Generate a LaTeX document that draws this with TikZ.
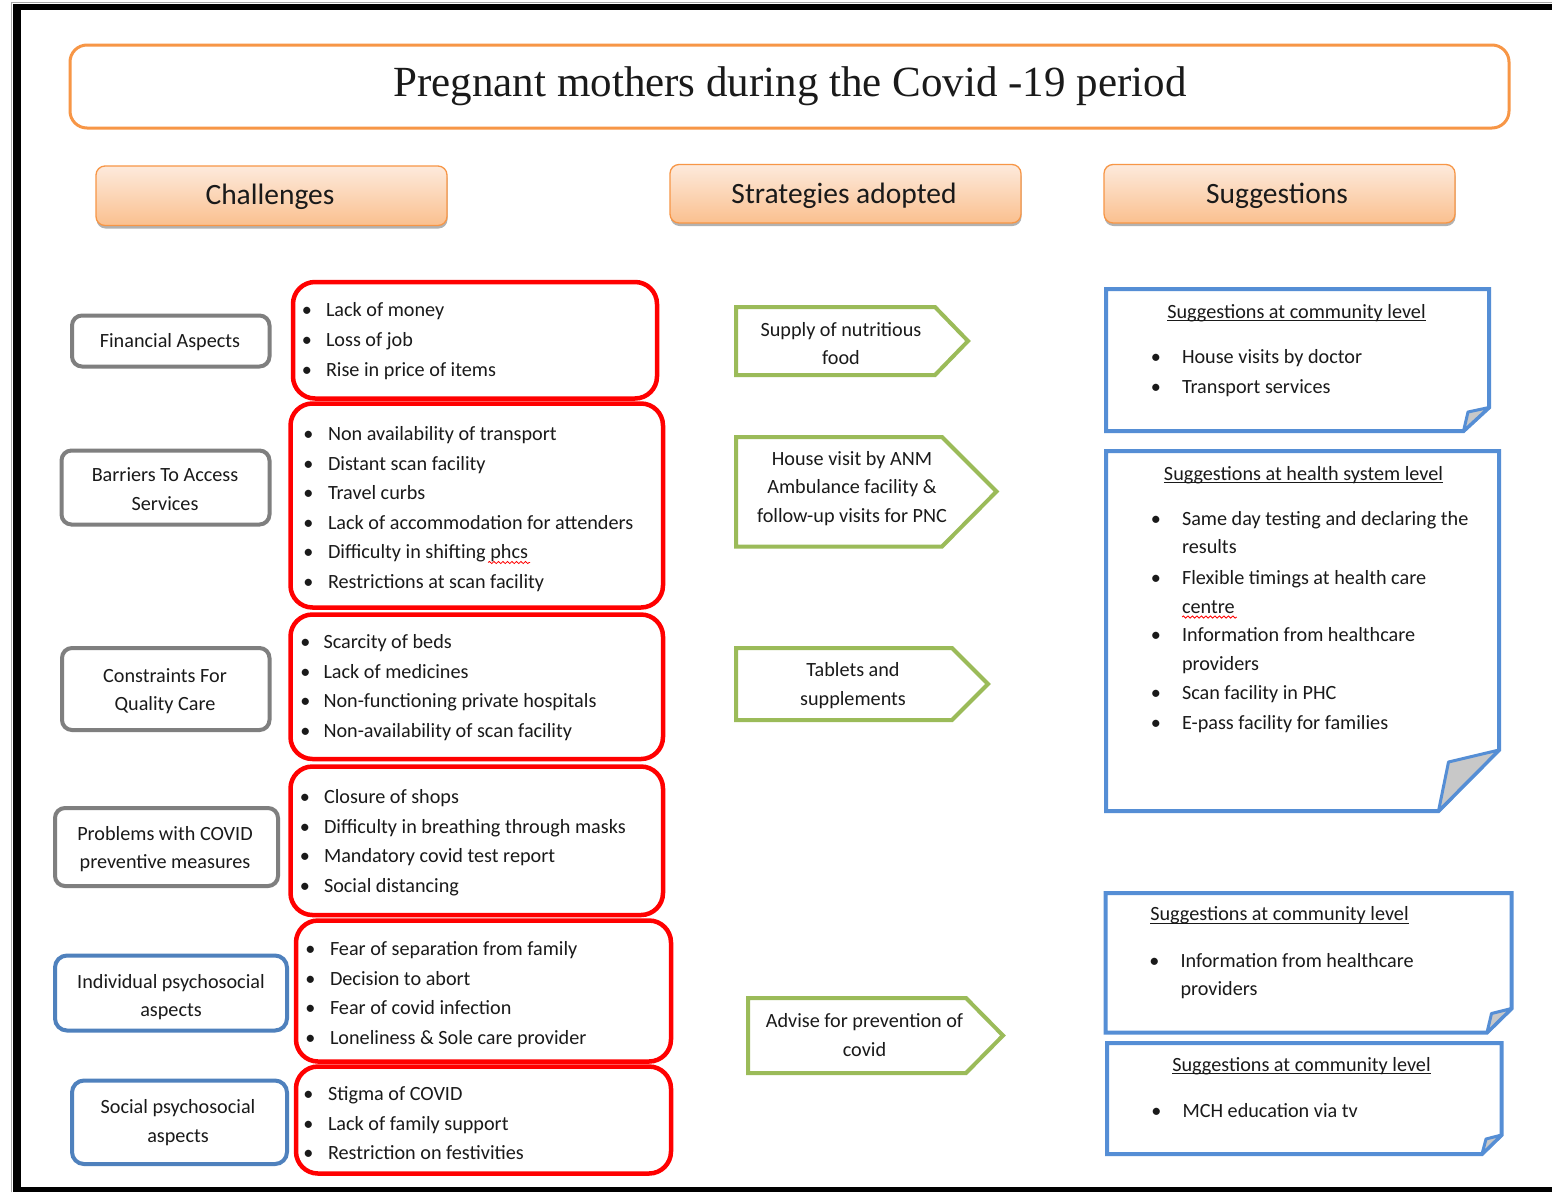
\documentclass[tikz,border=0pt]{standalone}
\usepackage{fontspec}
\setmainfont{Carlito}
\newfontfamily\titlefont{Liberation Serif}
\usetikzlibrary{shadows,decorations.pathmorphing}
\definecolor{orng}{HTML}{F79646}
\definecolor{htop}{RGB}{253,234,220}
\definecolor{hbot}{RGB}{250,192,143}
\definecolor{grn}{HTML}{9BBB59}
\definecolor{gry}{HTML}{7F7F7F}
\definecolor{lblue}{HTML}{4F81BD}
\definecolor{sblue}{HTML}{558ED5}
\definecolor{flapgray}{HTML}{C8C8C8}
\definecolor{txt}{HTML}{1A1A1A}
\newcommand\myitem[5]{\node[bul] (#1b) at (#2,#4) {\textbullet}; \node[itm] (#1) at (#3,#4) {#5};}
\begin{document}
\begin{tikzpicture}[x=1pt,y=-1pt,
  every node/.style={inner sep=0pt,outer sep=0pt,text=txt,font=\fontsize{20.2}{24}\selectfont},
  itm/.style={anchor=base west},
  bul/.style={anchor=base},
  ctr/.style={anchor=base},
  hdr/.style={draw=orng,line width=1.3,rounded corners=9,top color=htop,bottom color=hbot,
     drop shadow={shadow xshift=0.5pt,shadow yshift=-3pt,opacity=0.3,fill=black}},
  hdrtxt/.style={anchor=base,font=\fontsize{29.5}{34}\selectfont},
  graybox/.style={draw=gry,line width=4,rounded corners=10},
  bluebox/.style={draw=lblue,line width=4,rounded corners=12},
  redbox/.style={draw=red,line width=4.5,rounded corners=22},
  arrowbox/.style={draw=grn,line width=4,line join=miter},
  sugbox/.style={draw=sblue,line width=4,line join=miter},
  flap/.style={draw=sblue,line width=3,fill=flapgray,line join=round},
  uline/.style={draw=txt,line width=1},
  squig/.style={draw=red,line width=0.8,decorate,decoration={snake,amplitude=1.1pt,segment length=4.5pt}}
]
\useasboundingbox (0,0) rectangle (1552,1192);
\fill[white] (0,0) rectangle (1552,1192);
% frame
\draw[gray!70,line width=0.8] (11,1192) -- (11,2.5) -- (1552,2.5);
\fill[black] (13,4) rectangle (1552,10);
\fill[black] (13,4) rectangle (20.5,1192);
\fill[black] (13,1186.5) rectangle (1552,1192);

% title
\draw[draw=orng,line width=3,rounded corners=17] (70,45) rectangle (1509,128);
\node[ctr,font=\titlefont\fontsize{43}{50}\selectfont] (title) at (790,96.7) {Pregnant mothers during the Covid -19 period};

% headers
\path[hdr] (96,166) rectangle (447,225.5);
\node[hdrtxt] (challenges) at (270,204) {Challenges};
\path[hdr] (670,164.5) rectangle (1021,223);
\node[hdrtxt] (strategies) at (844,203.3) {Strategies adopted};
\path[hdr] (1104,164.5) rectangle (1455,223);
\node[hdrtxt] (suggestions) at (1277,203.3) {Suggestions};

% left labels
\draw[graybox] (72,315.5) rectangle (269.5,366.5);
\node[ctr] (fin) at (170,347.5) {Financial Aspects};
\draw[graybox] (61.5,450.5) rectangle (269.5,524.5);
\node[ctr] (bar1) at (165,481.7) {Barriers To Access};
\node[ctr] (bar2) at (165,510.7) {Services};
\draw[graybox] (62,648) rectangle (269.5,730);
\node[ctr] (con1) at (165,682) {Constraints For};
\node[ctr] (con2) at (165,710.5) {Quality Care};
\draw[graybox] (55,808) rectangle (278,886);
\node[ctr] (pro1) at (165,840) {Problems with COVID};
\node[ctr] (pro2) at (165,868.5) {preventive measures};
\draw[bluebox] (55,955.5) rectangle (287,1030.5);
\node[ctr] (ind1) at (171,988) {Individual psychosocial};
\node[ctr] (ind2) at (171,1016.5) {aspects};
\draw[bluebox] (72,1080.5) rectangle (287,1164);
\node[ctr] (soc1) at (178,1113.5) {Social psychosocial};
\node[ctr] (soc2) at (178,1142) {aspects};

% red boxes
\draw[redbox] (293,282) rectangle (657,398.5);
\myitem{r1a}{307}{326}{316.7}{Lack of money}
\myitem{r1b}{307}{326}{346.5}{Loss of job}
\myitem{r1c}{307}{326}{376}{Rise in price of items}

\draw[redbox] (290.5,403.5) rectangle (663,607.5);
\myitem{r2a}{308.5}{328}{440}{Non availability of transport}
\myitem{r2b}{308.5}{328}{470}{Distant scan facility}
\myitem{r2c}{308.5}{328}{499.3}{Travel curbs}
\myitem{r2d}{308.5}{328}{529.3}{Lack of accommodation for attenders}
\myitem{r2e}{308.5}{328}{558.5}{Difficulty in shifting phcs}
\myitem{r2f}{308.5}{328}{588.3}{Restrictions at scan facility}
\draw[squig] ([xshift=-40pt,yshift=-4pt]r2e.base east) -- ([xshift=2pt,yshift=-4pt]r2e.base east);

\draw[redbox] (290.5,614.5) rectangle (663,759);
\myitem{r3a}{305.5}{323.5}{648}{Scarcity of beds}
\myitem{r3b}{305.5}{323.5}{678}{Lack of medicines}
\myitem{r3c}{305.5}{323.5}{707}{Non-functioning private hospitals}
\myitem{r3d}{305.5}{323.5}{737}{Non-availability of scan facility}

\draw[redbox] (290.5,766.5) rectangle (663,915);
\myitem{r4a}{305}{324}{803.3}{Closure of shops}
\myitem{r4b}{305}{324}{833.3}{Difficulty in breathing through masks}
\myitem{r4c}{305}{324}{862}{Mandatory covid test report}
\myitem{r4d}{305}{324}{892.5}{Social distancing}

\draw[redbox] (296,920.5) rectangle (671,1061.5);
\myitem{r5a}{310.5}{330}{955}{Fear of separation from family}
\myitem{r5b}{310.5}{330}{985}{Decision to abort}
\myitem{r5c}{310.5}{330}{1014}{Fear of covid infection}
\myitem{r5d}{310.5}{330}{1044}{Loneliness \& Sole care provider}

\draw[redbox] (296,1066.5) rectangle (671,1173.5);
\myitem{r6a}{308.5}{328}{1100}{Stigma of COVID}
\myitem{r6b}{308.5}{328}{1130.5}{Lack of family support}
\myitem{r6c}{308.5}{328}{1159}{Restriction on festivities}

% strategy arrows
\draw[arrowbox] (736,307) -- (935,307) -- (968,341) -- (935,375) -- (736,375) -- cycle;
\node[ctr] (a1a) at (841,336.5) {Supply of nutritious};
\node[ctr] (a1b) at (841,364.5) {food};
\draw[arrowbox] (736,437) -- (942,437) -- (996.5,491.5) -- (942,546.5) -- (736,546.5) -- cycle;
\node[ctr] (a2a) at (852,465) {House visit by ANM};
\node[ctr] (a2b) at (852,493.5) {Ambulance facility \&};
\node[ctr] (a2c) at (852,522) {follow-up visits for PNC};
\draw[arrowbox] (736,648) -- (952,648) -- (988,684) -- (952,720) -- (736,720) -- cycle;
\node[ctr] (a3a) at (853,676.7) {Tablets and};
\node[ctr] (a3b) at (853,705.2) {supplements};
\draw[arrowbox] (748,998) -- (966,998) -- (1003,1035.5) -- (966,1073) -- (748,1073) -- cycle;
\node[ctr] (a4a) at (864.5,1027.5) {Advise for prevention of};
\node[ctr] (a4b) at (864.5,1056) {covid};

% suggestion boxes
\draw[sugbox] (1106,289) -- (1489,289) -- (1489,407.5) -- (1463.5,431) -- (1106,431) -- cycle;
\filldraw[flap] (1463.5,431) -- (1468,412) -- (1489,407.5) -- cycle;
\node[ctr] (s1t) at (1296.5,318) {Suggestions at community level};
\draw[uline] ([yshift=-2.5pt]s1t.base west) -- ([yshift=-2.5pt]s1t.base east);
\myitem{s1a}{1156}{1182}{363}{House visits by doctor}
\myitem{s1b}{1156}{1182}{393}{Transport services}

\draw[sugbox] (1106,451) -- (1499,451) -- (1499,750) -- (1438.5,811) -- (1106,811) -- cycle;
\filldraw[flap] (1438.5,811) -- (1448.5,762) -- (1499,750) -- cycle;
\node[ctr] (s2t) at (1303.5,480) {Suggestions at health system level};
\draw[uline] ([yshift=-2.5pt]s2t.base west) -- ([yshift=-2.5pt]s2t.base east);
\myitem{s2a}{1156}{1182}{525}{Same day testing and declaring the}
\node[itm] (s2a2) at (1182,553) {results};
\myitem{s2b}{1156}{1182}{584}{Flexible timings at health care}
\node[itm] (s2b2) at (1182,613) {centre};
\draw[squig] ([yshift=-4pt]s2b2.base west) -- ([xshift=2pt,yshift=-4pt]s2b2.base east);
\myitem{s2c}{1156}{1182}{641}{Information from healthcare}
\node[itm] (s2c2) at (1182,670) {providers};
\myitem{s2d}{1156}{1182}{699}{Scan facility in PHC}
\myitem{s2e}{1156}{1182}{729}{E-pass facility for families}

\draw[sugbox] (1105.5,893) -- (1511.5,893) -- (1511.5,1008.5) -- (1487,1032.5) -- (1105.5,1032.5) -- cycle;
\filldraw[flap] (1487,1032.5) -- (1491.5,1013.5) -- (1511.5,1008.5) -- cycle;
\node[ctr] (s3t) at (1279.5,920.7) {Suggestions at community level};
\draw[uline] ([yshift=-2.5pt]s3t.base west) -- ([yshift=-2.5pt]s3t.base east);
\myitem{s3a}{1154.5}{1180.5}{967}{Information from healthcare}
\node[itm] (s3a2) at (1180.5,995) {providers};

\draw[sugbox] (1107,1043) -- (1501.5,1043) -- (1501.5,1135) -- (1482,1154) -- (1107,1154) -- cycle;
\filldraw[flap] (1482,1154) -- (1486,1139) -- (1501.5,1135) -- cycle;
\node[ctr] (s4t) at (1301.5,1071) {Suggestions at community level};
\draw[uline] ([yshift=-2.5pt]s4t.base west) -- ([yshift=-2.5pt]s4t.base east);
\myitem{s4a}{1156.5}{1182.5}{1117}{MCH education via tv}
\end{tikzpicture}
\end{document}
